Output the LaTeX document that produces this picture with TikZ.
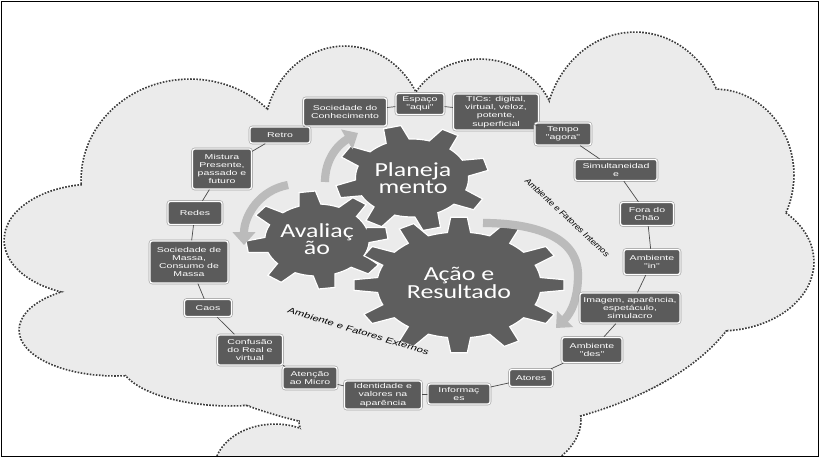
\documentclass[tikz,border=0pt]{standalone}
\usepackage{fontspec}
\usepackage{tikz}
\usetikzlibrary{arrows.meta}

\newfontfamily\boxfont[FakeStretch=1.5]{Liberation Sans}
\newfontfamily\gearfont[FakeStretch=1.3]{Carlito}
\newfontfamily\extfont[FakeStretch=1.38, FakeSlant=0.2]{Liberation Sans}
\newfontfamily\intfont[FakeStretch=1.08, FakeSlant=0.2]{Liberation Sans}

\definecolor{cloudgray}{HTML}{EBEBEB}
\definecolor{dashgray}{HTML}{3C3C3C}
\definecolor{boxgray}{HTML}{5B5B5B}
\definecolor{geargray}{HTML}{5E5E5E}
\definecolor{arrowgray}{HTML}{BBBBBB}
\definecolor{linkgray}{HTML}{4A4A4A}

\tikzset{
  tbox/.style={draw=white, line width=1.1pt, fill=boxgray, rounded corners=2pt,
    text=white, align=center, inner sep=0.5pt,
    font=\boxfont\fontsize{6}{7}\selectfont,
    preaction={draw=black!35, line width=2.2pt}},
  bsize/.style 2 args={minimum width=#1*0.03cm, minimum height=#2*0.03cm},
  link/.style={draw=linkgray, line width=0.6pt},
  gear/.style={fill=geargray, draw=white, line width=1pt},
  geartext/.style={text=white, align=center, font=\gearfont\fontsize{17}{15}\selectfont},
  turn/.style={draw=arrowgray, line width=7pt, -{Triangle[width=19pt,length=11pt]}},
  cloudedge/.style={draw=dashgray, line width=3pt, dash pattern=on 1.4pt off 1.2pt},
}

%% gear: teeth, outer radius, inner radius
\newcommand{\drawgear}[3]{%
  \fill[gear] (-0.27*360/#1:#3)
  \foreach \k [evaluate=\k as \a using {(\k-1)*360/#1}] in {1,...,#1}{
    -- (\a-0.15*360/#1:#2) -- (\a+0.15*360/#1:#2) -- (\a+0.27*360/#1:#3)
    arc[start angle={\a+0.27*360/#1}, end angle={\a+0.73*360/#1}, radius=#3]
  } -- cycle;}

\def\cloudparts{430/265/320/170, 190/180/108/100, 345/135/80/88, 480/130/75/70,
  635/135/90/102, 715/175/78/85, 720/262/93/68, 590/315/115/85, 440/420/140/70,
  95/240/90/55, 115/330/95/45, 230/360/110/45, 275/470/60/45}

\begin{document}
\begin{tikzpicture}[x=0.03cm, y=-0.03cm]
\useasboundingbox (0,0) rectangle (819,457);

%% cloud
\begin{scope}
\clip (1,1) rectangle (818,456);
\foreach \cx/\cy/\rx/\ry in \cloudparts
  \draw[cloudedge] (\cx,\cy) ellipse [x radius=\rx, y radius=\ry];
\foreach \cx/\cy/\rx/\ry in \cloudparts
  \fill[cloudgray] (\cx,\cy) ellipse [x radius=\rx, y radius=\ry];
\end{scope}

%% frame
\draw[line width=0.8pt] (1,1) rectangle (818,456);

%% gears
\begin{scope}[shift={(317,240)}, xscale=1.45, rotate=8]
  \drawgear{8}{49}{36}
\end{scope}
\begin{scope}[shift={(412,178)}, xscale=1.45, rotate=15]
  \drawgear{8}{53}{39}
\end{scope}
\begin{scope}[shift={(459,285)}, xscale=1.55]
  \drawgear{12}{68}{53}
\end{scope}

\node[geartext] (aval) at (317,239) {Avaliaç\\ão};
\node[geartext] (plan) at (413,178) {Planeja\\mento};
\node[geartext] (acao) at (459,283) {Ação e\\Resultado};

%% turning arrows
\coordinate (t1) at (325,182);
\coordinate (t1e) at (358,133);
\coordinate (t2) at (288,185);
\coordinate (t2e) at (244,245);
\coordinate (t3) at (483,223);
\coordinate (t3m) at (578,275);
\coordinate (t3e) at (556,328);
\draw[turn] (t1) to[out=90, in=210] (t1e);
\draw[turn] (t2) to[out=190, in=90] (t2e);
\draw[turn] (t3) to[out=0, in=90] (t3m) to[out=-90, in=45] (t3e);

%% labels
\node[font=\extfont\fontsize{7}{8}\selectfont, rotate=-16.7] (ext) at (358,331) {Ambiente e Fatores Externos};
\node[font=\intfont\fontsize{7}{8}\selectfont, rotate=-43] (int) at (567,217) {Ambiente e Fatores Internos};

%% boxes
\node[tbox, bsize={83}{28}] (soccon) at (345,112) {Sociedade do\\Conhecimento};
\node[tbox, bsize={48}{21}] (espaco) at (420,104) {Espaço\\"aqui"};
\node[tbox, bsize={85}{36}] (tics) at (496,112) {TICs: digital,\\virtual, veloz,\\potente,\\superficial};
\node[tbox, bsize={56}{22}] (tempo) at (563,134) {Tempo\\"agora"};
\node[tbox, bsize={82}{21}] (simult) at (616,170) {Simultaneidad\\e};
\node[tbox, bsize={53}{23}] (fora) at (647,214) {Fora do\\Chão};
\node[tbox, bsize={56}{25}] (ambin) at (652,262) {Ambiente\\"in"};
\node[tbox, bsize={100}{30}] (imagem) at (630,308) {Imagem, aparência,\\espetáculo,\\simulacro};
\node[tbox, bsize={60}{25}] (ambdes) at (592,350) {Ambiente\\"des"};
\node[tbox, bsize={43}{17}] (atores) at (531,378) {Atores};
\node[tbox, bsize={62}{20}] (info) at (459,394) {Informaç\\es};
\node[tbox, bsize={77}{28}] (ident) at (383,395) {Identidade e\\valores na\\aparência};
\node[tbox, bsize={54}{22}] (atencao) at (310,378) {Atenção\\ao Micro};
\node[tbox, bsize={65}{30}] (confusao) at (250,350) {Confusão\\do Real e\\virtual};
\node[tbox, bsize={47}{17}] (caos) at (208,308) {Caos};
\node[tbox, bsize={78}{42}] (socmassa) at (189,262) {Sociedade de\\Massa,\\Consumo de\\Massa};
\node[tbox, bsize={54}{23}] (redes) at (195,213) {Redes};
\node[tbox, bsize={59}{40}] (mistura) at (222,169) {Mistura\\Presente,\\passado e\\futuro};
\node[tbox, bsize={60}{16}] (retro) at (280,135) {Retro};

%% links
\draw[link] (soccon) -- (espaco);
\draw[link] (espaco) -- (tics);
\draw[link] (tics) -- (tempo);
\draw[link] (tempo) -- (simult);
\draw[link] (simult) -- (fora);
\draw[link] (fora) -- (ambin);
\draw[link] (ambin) -- (imagem);
\draw[link] (imagem) -- (ambdes);
\draw[link] (ambdes) -- (atores);
\draw[link] (atores) -- (info);
\draw[link] (info) -- (ident);
\draw[link] (ident) -- (atencao);
\draw[link] (atencao) -- (confusao);
\draw[link] (confusao) -- (caos);
\draw[link] (caos) -- (socmassa);
\draw[link] (socmassa) -- (redes);
\draw[link] (redes) -- (mistura);
\draw[link] (mistura) -- (retro);
\draw[link] (retro) -- (soccon);
\end{tikzpicture}
\end{document}
